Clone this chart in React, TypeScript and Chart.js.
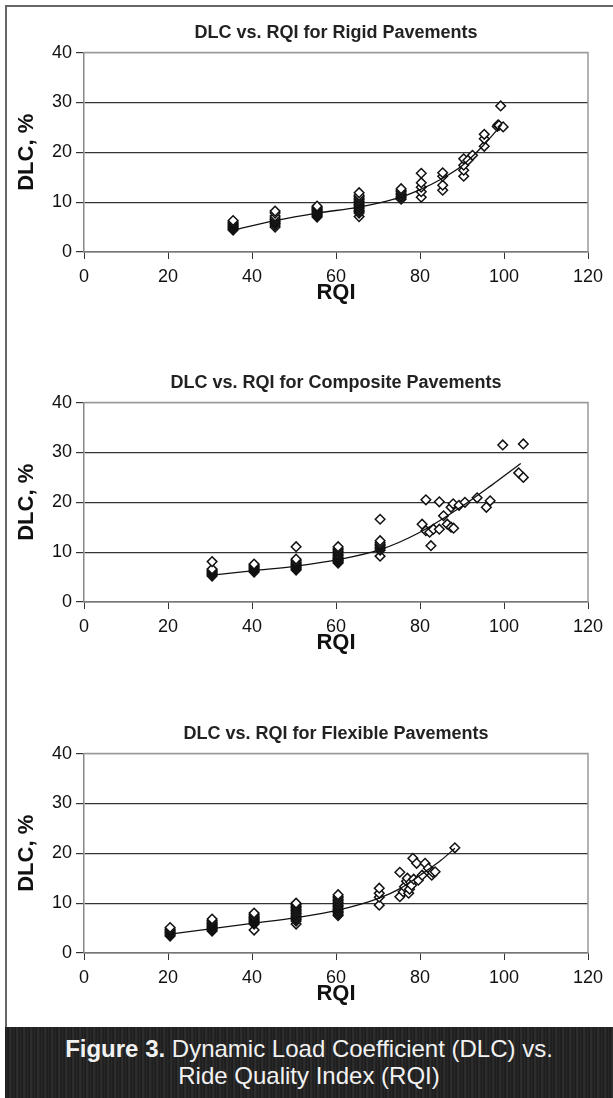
import React, { useEffect, useRef } from "react";
import { Chart, registerables } from "chart.js";

Chart.register(...registerables);

const FONT = '"Liberation Sans", Arial, Helvetica, sans-serif';

// ---------- Rigid pavements ----------
const rigidRQI = [
  35.5, 35.5, 35.5, 35.5, 35.5, 35.5, 35.5, 35.5, 35.5, 35.5,
  45.5, 45.5, 45.5, 45.5, 45.5, 45.5, 45.5, 45.5, 45.5, 45.5,
  55.5, 55.5, 55.5, 55.5, 55.5, 55.5, 55.5, 55.5, 55.5, 55.5, 55.5, 55.5,
  65.5, 65.5, 65.5, 65.5, 65.5, 65.5, 65.5, 65.5, 65.5, 65.5, 65.5, 65.5, 65.5, 65.5, 65.5,
  75.5, 75.5, 75.5, 75.5, 75.5, 75.5, 75.5, 75.5,
  80.3, 80.3, 80.3, 80.3, 80.3,
  85.4, 85.4, 85.4, 85.4,
  90.4, 90.4, 90.4, 90.4, 91.4, 92.5,
  95.3, 95.3, 95.3,
  98.4, 98.6, 98.8, 99.2, 99.8,
];
const rigidDLC = [
  4.4, 4.6, 4.8, 5.0, 5.2, 5.4, 5.6, 5.8, 6.0, 6.3,
  5.0, 5.4, 5.7, 6.0, 6.2, 6.5, 6.8, 7.2, 7.8, 8.2,
  7.0, 7.2, 7.4, 7.6, 7.8, 8.0, 8.2, 8.4, 8.6, 8.8, 9.0, 9.2,
  7.1, 7.8, 8.1, 8.4, 8.7, 9.0, 9.3, 9.6, 9.9, 10.2, 10.5, 10.8, 11.1, 11.4, 11.9,
  10.6, 10.9, 11.2, 11.5, 11.8, 12.1, 12.4, 12.7,
  11.0, 12.1, 13.0, 13.9, 15.8,
  12.4, 13.4, 15.2, 15.9,
  15.2, 16.4, 17.4, 18.7, 18.4, 19.4,
  21.2, 22.7, 23.6,
  25.2, 25.5, 25.4, 29.3, 25.1,
];
const rigidTrendRQI = [35.5, 45.5, 55.5, 65.5, 70, 75.5, 80, 85, 90, 95, 99.5];
const rigidTrendDLC = [4.4, 6.3, 7.8, 9.0, 9.8, 11.0, 12.5, 14.6, 17.3, 21.3, 25.6];

// ---------- Composite pavements ----------
const compRQI = [
  30.5, 30.5, 30.5, 30.5, 30.5, 30.5, 30.5, 30.5, 30.5,
  40.5, 40.5, 40.5, 40.5, 40.5, 40.5, 40.5, 40.5, 40.5,
  50.5, 50.5, 50.5, 50.5, 50.5, 50.5, 50.5, 50.5, 50.5, 50.5, 50.5, 50.5,
  60.5, 60.5, 60.5, 60.5, 60.5, 60.5, 60.5, 60.5, 60.5, 60.5, 60.5, 60.5, 60.5, 60.5,
  70.5, 70.5, 70.5, 70.5, 70.5, 70.5, 70.5, 70.5, 70.5,
  80.5, 81.4, 81.4, 82.3, 82.6, 83.2, 84.6, 84.6, 85.6, 86.5, 87.4, 88.0,
  87.4, 87.9, 89.3, 90.7, 93.6, 95.8, 96.7, 99.7, 104.6, 103.5, 104.6,
];
const compDLC = [
  5.2, 5.4, 5.6, 5.8, 6.0, 6.2, 6.4, 6.6, 8.1,
  6.0, 6.2, 6.4, 6.6, 6.8, 7.0, 7.2, 7.4, 7.6,
  6.4, 6.6, 6.8, 7.0, 7.2, 7.4, 7.6, 7.8, 8.0, 8.3, 8.6, 11.1,
  7.8, 8.0, 8.2, 8.4, 8.6, 8.8, 9.0, 9.3, 9.6, 9.9, 10.2, 10.5, 10.8, 11.1,
  9.2, 10.4, 10.7, 11.0, 11.3, 11.6, 11.9, 12.3, 16.6,
  15.6, 14.3, 20.5, 14.0, 11.3, 14.6, 14.6, 20.1, 17.3, 15.6, 15.0, 14.8,
  19.0, 19.7, 19.4, 20.0, 20.9, 19.0, 20.3, 31.5, 31.7, 25.9, 25.0,
];
const compTrendRQI = [30.5, 40.5, 50.5, 60.5, 70.5, 80, 90, 97, 104];
const compTrendDLC = [5.4, 6.3, 7.2, 8.5, 10.5, 14.0, 19.2, 23.4, 27.8];

// ---------- Flexible pavements ----------
const flexRQI = [
  20.5, 20.5, 20.5, 20.5, 20.5, 20.5, 20.5, 20.5, 20.5,
  30.5, 30.5, 30.5, 30.5, 30.5, 30.5, 30.5, 30.5, 30.5, 30.5, 30.5, 30.5,
  40.5, 40.5, 40.5, 40.5, 40.5, 40.5, 40.5, 40.5, 40.5, 40.5, 40.5, 40.5,
  50.5, 50.5, 50.5, 50.5, 50.5, 50.5, 50.5, 50.5, 50.5, 50.5, 50.5, 50.5, 50.5, 50.5,
  60.5, 60.5, 60.5, 60.5, 60.5, 60.5, 60.5, 60.5, 60.5, 60.5, 60.5, 60.5, 60.5, 60.5, 60.5,
  70.3, 70.3, 70.3, 70.3,
  75.2, 75.2, 76.0, 76.3, 76.8, 77.0, 77.3, 77.5, 77.8, 78.0, 78.3, 78.5,
  79.2, 79.6, 80.5, 81.2, 82.0, 82.8, 83.0, 83.6, 88.3,
];
const flexDLC = [
  3.4, 3.6, 3.8, 4.0, 4.2, 4.4, 4.6, 4.8, 5.1,
  4.4, 4.6, 4.8, 5.0, 5.2, 5.4, 5.6, 5.8, 6.0, 6.2, 6.5, 6.8,
  4.6, 5.8, 6.0, 6.2, 6.4, 6.6, 6.8, 7.0, 7.2, 7.4, 7.7, 8.0,
  5.8, 6.4, 6.7, 7.0, 7.3, 7.6, 7.9, 8.2, 8.5, 8.8, 9.1, 9.4, 9.7, 10.0,
  7.5, 7.8, 8.1, 8.4, 8.7, 9.0, 9.3, 9.6, 9.9, 10.2, 10.5, 10.8, 11.1, 11.4, 11.7,
  9.6, 11.2, 12.0, 13.0,
  11.3, 16.2, 12.3, 13.3, 14.4, 15.0, 12.0, 12.8, 14.2, 13.6, 19.0, 14.8,
  18.0, 14.6, 15.6, 18.0, 17.0, 15.6, 16.2, 16.3, 21.1,
];
const flexTrendRQI = [20.5, 30.5, 40.5, 50.5, 60.5, 70.3, 75, 80, 85, 88.3];
const flexTrendDLC = [3.8, 4.9, 6.0, 7.1, 8.6, 11.0, 12.8, 15.6, 18.6, 21.0];

const X_MIN = 0, X_MAX = 120, X_STEP = 20;
const Y_MIN = 0, Y_MAX = 40, Y_STEP = 10;

const framePlugin = {
  id: "frame",
  afterDraw(chart: any) {
    const { ctx, chartArea } = chart;
    ctx.save();
    ctx.strokeStyle = "#999";
    ctx.lineWidth = 1.5;
    ctx.beginPath();
    ctx.moveTo(chartArea.left, chartArea.top);
    ctx.lineTo(chartArea.right, chartArea.top);
    ctx.lineTo(chartArea.right, chartArea.bottom);
    ctx.stroke();
    ctx.restore();
  },
};

type PanelProps = {
  title: string;
  rqi: number[];
  dlc: number[];
  trendRQI: number[];
  trendDLC: number[];
  top: number;
};

function Panel({ title, rqi, dlc, trendRQI, trendDLC, top }: PanelProps) {
  const ref = useRef<HTMLCanvasElement>(null);
  useEffect(() => {
    if (!ref.current) return;
    const pts = rqi.map((x, i) => ({ x, y: dlc[i] }));
    const trend = trendRQI.map((x, i) => ({ x, y: trendDLC[i] }));
    const chart = new Chart(ref.current, {
      type: "scatter",
      data: {
        datasets: [
          {
            type: "line",
            data: trend,
            borderColor: "#111",
            borderWidth: 1.3,
            pointRadius: 0,
            fill: false,
            cubicInterpolationMode: "monotone",
            order: 0,
          } as any,
          {
            data: pts,
            pointStyle: "rectRot",
            pointRadius: 4.8,
            pointBorderWidth: 1.5,
            pointBorderColor: "#111",
            pointBackgroundColor: "#fff",
            showLine: false,
            order: 1,
          } as any,
        ],
      },
      options: {
        responsive: false,
        animation: false,
        devicePixelRatio: 1,
        layout: { padding: { left: 0, right: 25, top: 0, bottom: 0 } },
        plugins: {
          legend: { display: false },
          tooltip: { enabled: false },
          title: {
            display: true,
            fullSize: false,
            text: title,
            color: "#222",
            font: { family: FONT, size: 18, weight: "bold" },
            padding: { top: 22, bottom: 9 },
          },
        },
        scales: {
          x: {
            type: "linear",
            min: X_MIN,
            max: X_MAX,
            ticks: {
              stepSize: X_STEP,
              color: "#111",
              font: { family: FONT, size: 18 },
              padding: 7,
              maxRotation: 0,
            },
            grid: { drawOnChartArea: false, drawTicks: true, tickLength: 7, color: "#333" },
            border: { color: "#777", width: 1.5 },
            title: {
              display: true,
              text: "RQI",
              color: "#111",
              font: { family: FONT, size: 22, weight: "bold" },
              padding: { top: 0, bottom: 4 },
            },
            afterFit: (s: any) => {
              s.height = 58;
              s.paddingLeft = 0;
              s.paddingRight = 0;
            },
          },
          y: {
            type: "linear",
            min: Y_MIN,
            max: Y_MAX,
            ticks: {
              stepSize: Y_STEP,
              color: "#111",
              font: { family: FONT, size: 18 },
              padding: 4,
            },
            grid: {
              color: (c: any) => (c.tick && c.tick.value === Y_MAX ? "#999" : "#333"),
              tickColor: "#333",
              tickLength: 8,
              lineWidth: 1.2,
            },
            border: { color: "#888", width: 1.5 },
            title: {
              display: true,
              text: "DLC, %",
              color: "#111",
              font: { family: FONT, size: 22, weight: "bold" },
              padding: { top: 14, bottom: 0 },
            },
            afterFit: (s: any) => {
              s.width = 84;
              s.paddingTop = 0;
              s.paddingBottom = 0;
            },
          },
        },
      },
      plugins: [framePlugin],
    });
    return () => chart.destroy();
  }, [title, rqi, dlc, trendRQI, trendDLC]);

  return (
    <canvas
      ref={ref}
      width={613}
      height={310}
      style={{ position: "absolute", left: 0, top, width: 613, height: 310 }}
    />
  );
}

export default function App() {
  return (
    <div
      style={{
        position: "absolute",
        left: 0,
        top: 0,
        width: 613,
        height: 1098,
        background: "#fff",
        overflow: "hidden",
        fontFamily: FONT,
      }}
    >
      <div
        style={{
          position: "absolute",
          left: 5,
          top: 5,
          width: 640,
          height: 1030,
          borderLeft: "2px solid #666",
          borderTop: "2px solid #666",
          boxSizing: "border-box",
        }}
      />
      <Panel
        title="DLC vs. RQI for Rigid Pavements"
        rqi={rigidRQI}
        dlc={rigidDLC}
        trendRQI={rigidTrendRQI}
        trendDLC={rigidTrendDLC}
        top={0}
      />
      <Panel
        title="DLC vs. RQI for Composite Pavements"
        rqi={compRQI}
        dlc={compDLC}
        trendRQI={compTrendRQI}
        trendDLC={compTrendDLC}
        top={350}
      />
      <Panel
        title="DLC vs. RQI for Flexible Pavements"
        rqi={flexRQI}
        dlc={flexDLC}
        trendRQI={flexTrendRQI}
        trendDLC={flexTrendDLC}
        top={701}
      />
      <div
        style={{
          position: "absolute",
          left: 5,
          top: 1027,
          width: 608,
          height: 71,
          background:
            "repeating-linear-gradient(90deg, #1b1b1b 0px, #2c2c2c 2px, #161616 3px, #333 5px, #1e1e1e 7px)",
          color: "#f2f2f2",
          textAlign: "center",
          fontSize: 24,
          lineHeight: "27px",
          paddingTop: 8,
          boxSizing: "border-box",
        }}
      >
        <b>Figure 3.</b> Dynamic Load Coefficient (DLC) vs.
        <br />
        Ride Quality Index (RQI)
      </div>
    </div>
  );
}
